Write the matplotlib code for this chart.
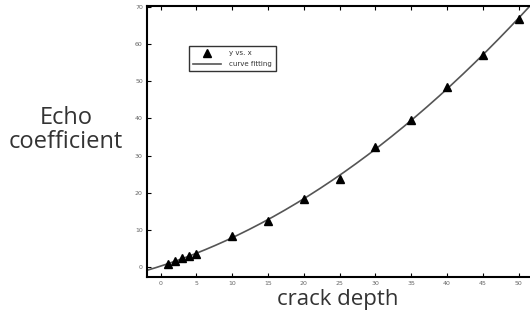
import numpy as np
import matplotlib as mpl
mpl.use('Agg')
import matplotlib.pyplot as plt

# crack depth (x) and echo coefficient (y)
depth = [1, 2, 3, 4, 5, 10, 15, 20, 25, 30, 35, 40, 45, 50]
echo = [0.8, 1.6, 2.3, 3.0, 3.5, 8.4, 12.4, 18.4, 23.8, 32.3, 39.6, 48.4, 57.0, 66.8]
xticks = [0, 5, 10, 15, 20, 25, 30, 35, 40, 45, 50]
yticks = [0, 10, 20, 30, 40, 50, 60, 70]

fig = plt.figure(figsize=(5.30, 3.21), dpi=100)
ax = fig.add_axes([147/530, 1 - 277/321, 1 - 147/530, 271/321])

# quadratic fit of the measured points
coef = np.polyfit(depth, echo, 2)
xs = np.linspace(-2, 53, 200)
ax.plot(xs, np.polyval(coef, xs), color='#555555', lw=1.2, label='curve fitting', zorder=2)
ax.plot(depth, echo, '^', color='black', ms=5.5, label='y vs. x', zorder=3)

ax.set_xlim(-1.9, 51.6)
ax.set_ylim(-2.7, 70.3)
ax.set_xticks(xticks)
ax.set_yticks(yticks)
ax.tick_params(direction='in', length=3, width=0.8, labelsize=4.5, labelcolor='#666666', pad=3)
ax.tick_params(top=True, which='both')
ax.spines['right'].set_visible(False)
for s in ['left', 'bottom', 'top']:
    ax.spines[s].set_linewidth(1.5)

h, l = ax.get_legend_handles_labels()
leg = ax.legend(h[::-1], l[::-1], loc='upper left', bbox_to_anchor=(0.1, 0.865),
                fontsize=5, frameon=True, fancybox=False, edgecolor='black',
                handlelength=4, borderpad=0.6, labelspacing=0.7, handletextpad=1.2)
leg.get_frame().set_linewidth(1.0)
for t in leg.get_texts():
    t.set_color('#333333')

fig.text(66/530, 1 - 130/321, 'Echo\ncoefficient', ha='center', va='center',
         fontsize=17, color='#333333', family=['Open Sans', 'DejaVu Sans'], linespacing=1.05)
fig.text(338/530, 1 - 300/321, 'crack depth', ha='center', va='center',
         fontsize=16, color='#333333', family=['Open Sans', 'DejaVu Sans'])

plt.savefig('out.png', dpi=100)
plt.close()
